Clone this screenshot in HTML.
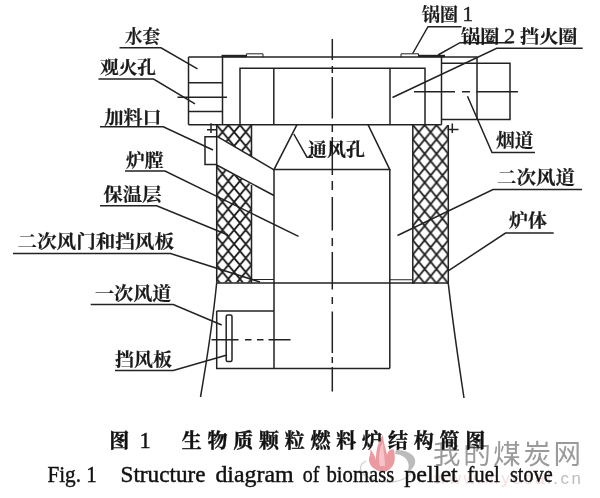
<!DOCTYPE html>
<html lang="zh">
<head>
<meta charset="utf-8">
<title>图1 生物质颗粒燃料炉结构简图</title>
<style>
html,body{margin:0;padding:0;background:#fff;}
body{width:600px;height:498px;overflow:hidden;position:relative;}
svg{position:absolute;left:0;top:0;display:block;filter:blur(0.4px);}
.ln{stroke:#222;stroke-width:1.5;fill:none;stroke-linecap:butt;}
.thin{stroke:#333;stroke-width:1;fill:none;}
.lab{font-family:"Liberation Serif","Noto Serif CJK SC",serif;font-weight:700;font-size:18px;fill:#1a1a1a;stroke:#1a1a1a;stroke-width:0.2px;}
.cap{font-family:"Liberation Serif","Noto Serif CJK SC",serif;font-weight:700;font-size:20px;fill:#111;stroke:#111;stroke-width:0.4px;}
.eng{font-family:"Liberation Serif",serif;font-size:22.5px;fill:#111;stroke:#111;stroke-width:0.42px;}
.wm{font-family:"Liberation Sans","Noto Sans CJK SC",sans-serif;fill:#9a9a9a;font-weight:400;}
</style>
</head>
<body>
<svg width="600" height="498" viewBox="0 0 600 498">
<defs>
<pattern id="hatch" patternUnits="userSpaceOnUse" x="216.7" y="125" width="11.6" height="14">
<path d="M0 0 L11.6 14 M11.6 0 L0 14" stroke="#1c1c1c" stroke-width="1.8" fill="none"/>
</pattern>
<pattern id="hatchR" patternUnits="userSpaceOnUse" x="412.8" y="125" width="11.85" height="14.4">
<path d="M0 0 L11.85 14.4 M11.85 0 L0 14.4" stroke="#1c1c1c" stroke-width="1.8" fill="none"/>
</pattern>
<clipPath id="clipL"><path d="M216.7 125 H251.5 V156.3 L216.7 136.2 Z M216.7 165 L251.5 184.6 V282.7 H216.7 Z"/></clipPath>
</defs>
<rect width="600" height="498" fill="#fff"/>

<!-- WATERMARK -->
<g id="watermark">
<path d="M382 472 C374 470 368 465 369 458 C370 455 371 452 370 449 C373 452 375 456 376 460 C376 452 377 443 383 435 C383 442 386 448 387 455 C388 451 391 448 394 450 C395 456 396 463 391 468 C388 471 385 472 382 472 Z" fill="#ea8f97" opacity="0.9"/>
<path d="M380 466 C378 458 379 450 383 442 C383 450 385 458 385 466 Z" fill="#f7c9cc" opacity="0.9"/>
<path d="M396 450 C408 450 417 456 415 463 C414 468 410 471 407 472 C410 467 409 461 404 457 C401 455 398 454 395 454 Z" fill="#b4b4b4" opacity="0.9"/>
<path d="M366 461 C352 468 366 483 392 482 C402 481 409 477 412 472" stroke="#cfcfcf" stroke-width="1.3" fill="none"/>
<text class="wm" x="433" y="464" font-size="27.5" textLength="148" lengthAdjust="spacing" fill="#b9b9b9">我的煤炭网</text>
<text class="wm" x="434" y="484" font-size="17" textLength="147" lengthAdjust="spacing"><tspan fill="#e9c4c6" fill-opacity="0.55">www.mycoal</tspan><tspan fill="#bdbdbd">.cn</tspan></text>
</g>

<!-- HATCHED INSULATION -->
<g id="hatching">
<rect x="216.7" y="125" width="34.8" height="157.7" fill="url(#hatch)" clip-path="url(#clipL)"/>
<rect x="412.8" y="125" width="35.55" height="158.7" fill="url(#hatchR)"/>
</g>

<!-- STOVE BODY -->
<g id="body" class="ln">
<!-- top assembly -->
<path d="M188.5 57 H477.6"/>
<path d="M188.5 57 V124.7"/>
<path d="M188.5 124.7 H441.5"/>
<path d="M222.5 57 V124.7"/>
<path d="M188.5 82.7 H222.5 M188.5 111.4 H222.5"/>
<path d="M177.5 97.2 H227"/>
<path d="M240 124.7 V68.3 H425 V124.7"/>
<path d="M273.8 68.3 V124.7 M390 68.3 V124.7"/>
<path d="M441.5 57 V124.7"/>
<path d="M477 57 V119.5"/>
<path d="M441.5 119.5 H510 V63.2 H441.5"/>
<!-- pot rings -->
<path d="M221.5 56 H246.5" stroke-width="2.4"/>
<path d="M246.5 57 V53.8 H263 V57" stroke-width="1"/>
<path d="M418.5 56 H445" stroke-width="2.4"/>
<path d="M401 57 V53.8 H418.5 V57" stroke-width="1"/>
<!-- plus marks -->
<path d="M211 123.3 V133 M207 129.7 H216.7"/>
<path d="M452.3 123.5 V133 M447.5 129.5 H458.5"/>
<!-- hatched block outlines -->
<path d="M216.7 125 V282.7 M251.5 125 V156 M251.5 185 V282.7"/>
<path d="M412.8 125 V283.7 M448.3 125 V283.7"/>
<!-- feed port -->
<path d="M216.7 136.7 H205 V164.5 H216.7"/>
<path d="M216.7 136.2 L274 169.8"/>
<path d="M216.7 165 L274 195.5"/>
<!-- hood (trapezoid) -->
<path d="M297 124.7 L274 169.6 H389.8 L368 124.7"/>
<!-- chamber -->
<path d="M274 169.6 V368.5 M389.8 169.6 V368.5"/>
<path d="M216.7 282.9 H448.3"/>
<path d="M251.5 279.5 H274 M389.8 279.8 H412.8" stroke-width="1.1"/>
<!-- primary duct -->
<path d="M216.7 311 H274"/>
<path d="M216.7 311 V368.5 H389.8"/>
<rect x="226.2" y="315" width="5.8" height="46.5" rx="1.5"/>
<!-- outer body slanted -->
<path d="M216.7 282.7 C213 320 206 365 200.5 397"/>
<path d="M448.3 283.7 C452.5 320 459 365 464 398"/>
</g>

<!-- CENTER LINES -->
<g id="centerlines" class="ln" stroke-width="1.35">
<path d="M332.3 39 V60 M332.3 66 V73 M332.3 77 V118.5 M332.3 125 V132 M332.3 137 V175 M332.3 181 V190 M332.3 197 V230.5 M332.3 238 V246 M332.3 252 V289.5 M332.3 297 V304 M332.3 311.5 V353 M332.3 357 V363 M332.3 367 V391.5"/>
<path d="M414 91.8 H455 M462 91.8 H470 M476.5 91.8 H518"/>
<path d="M211.5 339.7 H238.5 M245 339.7 H251.5 M257 339.7 H263.5 M268.5 339.7 H290.5"/>
</g>

<!-- LEADERS -->
<g id="leaders" class="ln" stroke-width="1.45">
<path d="M119.5 47.8 H161 L197.5 68.8"/>
<path d="M98.5 79 H153.5 L195 103.8"/>
<path d="M100 126.8 H163.3 L213 150"/>
<path d="M125 171 H165 L298.5 236.3"/>
<path d="M100 205.7 H156.7 L228 235"/>
<path d="M13 253.5 H170.5 L260 282"/>
<path d="M90.7 304.5 H173.3 L221.7 325"/>
<path d="M115 370.5 H173.3 L227 355"/>
<path d="M461.5 26.7 H428 L412.7 53.5"/>
<path d="M511.7 42.7 H460 L438 55"/>
<path d="M582.7 48.3 H496.7 L392.5 97.5"/>
<path d="M535 152.5 H492 L467.5 96.3"/>
<path d="M582 189.6 H493 L397.5 235.5"/>
<path d="M553.7 233 H505.5 L448.6 270.6"/>
<path d="M293.8 134 L307 157.2 H313"/>
</g>

<!-- LABELS -->
<g id="labels" class="lab">
<text x="125" y="43" textLength="35" lengthAdjust="spacingAndGlyphs">水套</text>
<text x="100" y="74" textLength="56" lengthAdjust="spacingAndGlyphs">观火孔</text>
<text x="104.5" y="123.5" textLength="57" lengthAdjust="spacingAndGlyphs">加料口</text>
<text x="126" y="166.5" textLength="37.5" lengthAdjust="spacingAndGlyphs">炉膛</text>
<text x="103.5" y="200.7" textLength="58" lengthAdjust="spacingAndGlyphs">保温层</text>
<text x="17.5" y="248.3" textLength="156.5" lengthAdjust="spacingAndGlyphs">二次风门和挡风板</text>
<text x="95" y="300" textLength="76.5" lengthAdjust="spacingAndGlyphs">一次风道</text>
<text x="115" y="365.6" textLength="57" lengthAdjust="spacingAndGlyphs">挡风板</text>
<text x="422" y="21" textLength="51" lengthAdjust="spacingAndGlyphs" xml:space="preserve">锅圈 <tspan font-weight="400" font-size="21" stroke-width="0.45">1</tspan></text>
<text x="461" y="43" textLength="116.5" lengthAdjust="spacingAndGlyphs" xml:space="preserve">锅圈 <tspan font-weight="400" font-size="21" stroke-width="0.45">2</tspan> 挡火圈</text>
<text x="496" y="147.4" textLength="37.5" lengthAdjust="spacingAndGlyphs">烟道</text>
<text x="497" y="184.4" textLength="78" lengthAdjust="spacingAndGlyphs">二次风道</text>
<text x="509" y="227.4" textLength="38" lengthAdjust="spacingAndGlyphs">炉体</text>
<text x="308" y="155.6" textLength="57" lengthAdjust="spacingAndGlyphs">通风孔</text>
</g>

<!-- CAPTIONS -->
<g id="captions">
<text class="cap" x="109.3" y="447.5">图</text>
<text class="eng" x="139.5" y="448.3" font-size="24">1</text>
<text class="cap" x="181.7" y="447.5" textLength="303.5" lengthAdjust="spacing">生物质颗粒燃料炉结构简图</text>
<text class="eng" x="47.4" y="482" xml:space="preserve" textLength="49.5" lengthAdjust="spacingAndGlyphs">Fig. 1</text>
<text class="eng" x="120.5" y="482" textLength="85" lengthAdjust="spacingAndGlyphs">Structure</text>
<text class="eng" x="215.4" y="482" textLength="78.2" lengthAdjust="spacingAndGlyphs">diagram</text>
<text class="eng" x="302.7" y="482" textLength="16.6" lengthAdjust="spacingAndGlyphs">of</text>
<text class="eng" x="326.5" y="482" textLength="67.8" lengthAdjust="spacingAndGlyphs">biomass</text>
<text class="eng" x="404.3" y="482" textLength="53.5" lengthAdjust="spacingAndGlyphs">pellet</text>
<text class="eng" x="467.3" y="482" textLength="32.5" lengthAdjust="spacingAndGlyphs">fuel</text>
<text class="eng" x="510" y="482" textLength="42.7" lengthAdjust="spacingAndGlyphs">stove</text>
</g>
</svg>
</body>
</html>
